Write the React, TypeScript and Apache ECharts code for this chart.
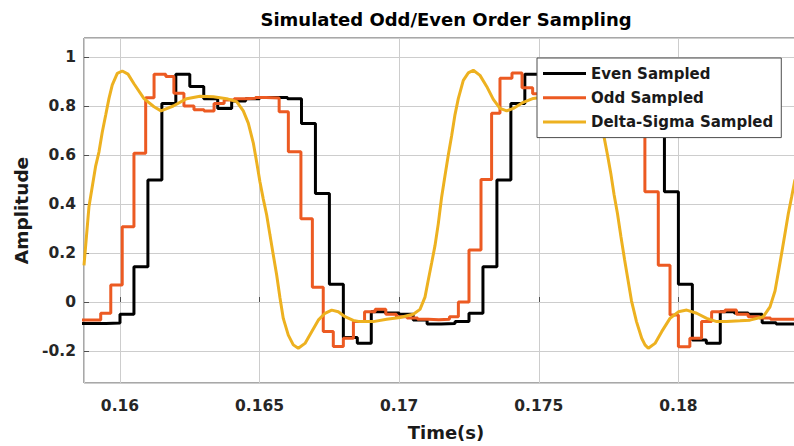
import React, { useEffect, useRef } from 'react';
import * as echarts from 'echarts';

// Even sampled (zero-order hold, value held from each time to the next)
const evenT = [
  0.1585, 0.159, 0.1595, 0.16, 0.1605, 0.161, 0.1615, 0.162, 0.1625, 0.163,
  0.1635, 0.164, 0.1645, 0.165, 0.1655, 0.166, 0.1665, 0.167, 0.1675, 0.168,
  0.1685, 0.169, 0.1695, 0.17, 0.1705, 0.171, 0.1715, 0.172, 0.1725, 0.173,
  0.1735, 0.174, 0.1745, 0.175, 0.1755, 0.176, 0.1765, 0.177, 0.1775, 0.178,
  0.1785, 0.179, 0.1795, 0.18, 0.1805, 0.181, 0.1815, 0.182, 0.1825, 0.183,
  0.1835, 0.184, 0.1845,
];
const evenV = [
  -0.088, -0.088, -0.086, -0.05, 0.144, 0.498, 0.81, 0.93, 0.88, 0.83,
  0.79, 0.82, 0.83, 0.835, 0.835, 0.83, 0.729, 0.443, 0.072, -0.145,
  -0.168, -0.04, -0.045, -0.05, -0.073, -0.09, -0.088, -0.08, -0.046, 0.144,
  0.498, 0.81, 0.93, 0.88, 0.83, 0.79, 0.82, 0.83, 0.835, 0.835,
  0.83, 0.729, 0.45, 0.072, -0.155, -0.168, -0.04, -0.045, -0.05, -0.085,
  -0.09, -0.09, -0.09,
];

// Odd sampled (zero-order hold)
const oddT = [
  0.1585, 0.15931, 0.15967, 0.16008, 0.1605, 0.16092, 0.16122, 0.16164, 0.16193, 0.16229,
  0.16265, 0.16301, 0.16337, 0.16373, 0.16409, 0.16447, 0.16485, 0.16523, 0.1657, 0.16603,
  0.16648, 0.16689, 0.16728, 0.16764, 0.168, 0.16836, 0.16876, 0.16914, 0.16952, 0.1699,
  0.17028, 0.17066, 0.17104, 0.17142, 0.1718, 0.17212, 0.1725, 0.17293, 0.17331, 0.17361,
  0.17404, 0.1744, 0.17478, 0.17516, 0.17554, 0.17592, 0.1763, 0.17668, 0.17706, 0.17766,
  0.17804, 0.17842, 0.1788, 0.17928, 0.1797, 0.18, 0.18041, 0.18083, 0.18119, 0.18167,
  0.18208, 0.1825, 0.1829, 0.1833, 0.1837, 0.1845,
];
const oddV = [
  -0.073, -0.046, 0.069, 0.307, 0.607, 0.834, 0.93, 0.92, 0.852, 0.8,
  0.785, 0.78, 0.81, 0.825, 0.83, 0.832, 0.835, 0.833, 0.777, 0.613,
  0.34, 0.06, -0.12, -0.182, -0.148, -0.08, -0.04, -0.03, -0.05, -0.06,
  -0.065, -0.07, -0.072, -0.07, -0.06, 0.0, 0.212, 0.5, 0.77, 0.913,
  0.935, 0.875, 0.85, 0.81, 0.79, 0.785, 0.81, 0.825, 0.83, 0.832,
  0.83, 0.76, 0.45, 0.15, -0.053, -0.183, -0.148, -0.08, -0.04, -0.033,
  -0.05, -0.06, -0.065, -0.07, -0.07, -0.07,
];

// Delta-Sigma sampled
const dsT = [
  0.158711, 0.15889, 0.15913, 0.159248, 0.159366, 0.159488, 0.159606, 0.159724, 0.159903, 0.160082,
  0.160287, 0.160501, 0.16086, 0.161218, 0.161468, 0.161909, 0.162389, 0.162865, 0.163342, 0.163822,
  0.16418, 0.164416, 0.164595, 0.164774, 0.164896, 0.165014, 0.165133, 0.165254, 0.165372, 0.165491,
  0.165612, 0.165731, 0.165849, 0.166028, 0.166207, 0.166386, 0.166626, 0.166866, 0.167102, 0.167342,
  0.167582, 0.167819, 0.168059, 0.168356, 0.168596, 0.169072, 0.169552, 0.170029, 0.170505, 0.170745,
  0.170924, 0.171042, 0.171164, 0.171282, 0.171401, 0.171522, 0.17164, 0.171759, 0.17188, 0.171999,
  0.172117, 0.172296, 0.172475, 0.172654, 0.172894, 0.173134, 0.173371, 0.17361, 0.17385, 0.174087,
  0.174445, 0.174803, 0.175365, 0.175831, 0.176332, 0.176691, 0.176941, 0.177156, 0.177335, 0.177461,
  0.177586, 0.177694, 0.177819, 0.177944, 0.17807, 0.178195, 0.17832, 0.178499, 0.178686, 0.178804,
  0.178922, 0.179162, 0.179402, 0.179699, 0.179997, 0.180298, 0.180656, 0.181014, 0.181372, 0.18173,
  0.182206, 0.182564, 0.183041, 0.183281, 0.18346, 0.183578, 0.1837, 0.183818, 0.183936, 0.184058,
  0.184176,
];
const dsV = [
  0.15, 0.39, 0.556, 0.613, 0.694, 0.763, 0.831, 0.886, 0.933, 0.943,
  0.93, 0.891, 0.83, 0.797, 0.78, 0.8, 0.83, 0.84, 0.838, 0.83,
  0.818, 0.78, 0.73, 0.65, 0.57, 0.49, 0.42, 0.355, 0.273, 0.192,
  0.11, 0.016, -0.067, -0.135, -0.175, -0.189, -0.169, -0.121, -0.074, -0.046,
  -0.033, -0.04, -0.06, -0.075, -0.08, -0.08, -0.07, -0.063, -0.05, -0.03,
  0.02, 0.09, 0.16, 0.23, 0.32, 0.43, 0.515, 0.6, 0.68, 0.765,
  0.83, 0.905, 0.935, 0.946, 0.925, 0.88, 0.827, 0.79, 0.78, 0.79,
  0.815, 0.831, 0.84, 0.838, 0.83, 0.818, 0.785, 0.74, 0.675, 0.6,
  0.52, 0.44, 0.36, 0.265, 0.175, 0.09, 0.005, -0.08, -0.148, -0.175,
  -0.189, -0.169, -0.121, -0.067, -0.04, -0.033, -0.046, -0.067, -0.08, -0.08,
  -0.077, -0.074, -0.06, -0.02, 0.045, 0.12, 0.2, 0.28, 0.36, 0.43,
  0.5,
];

const seriesNames = ['Even Sampled', 'Odd Sampled', 'Delta-Sigma Sampled'];
const seriesColors = ['#000000', '#EC5A22', '#EDB120'];
const titleText = 'Simulated Odd/Even Order Sampling';
const xName = 'Time(s)';
const yName = 'Amplitude';
const xRange = [0.158711, 0.184642];
const yRange = [-0.3306, 1.0776];

const FONT = '"DejaVu Sans", "Liberation Sans", Arial, sans-serif';

const zip = (t: number[], v: number[]) => t.map((x, i) => [x, v[i]]);

export default function App() {
  const ref = useRef<HTMLDivElement>(null);

  useEffect(() => {
    if (!ref.current) return;
    const chart = echarts.init(ref.current, null, { renderer: 'svg' });
    const fmt = (v: number) => String(parseFloat(v.toFixed(4)));
    chart.setOption({
      animation: false,
      backgroundColor: '#ffffff',
      graphic: [
        {
          type: 'text',
          x: 446,
          y: 19,
          silent: true,
          style: {
            text: titleText,
            fill: '#000000',
            fontFamily: FONT,
            fontWeight: 'bold',
            fontSize: 18,
            align: 'center',
            verticalAlign: 'middle',
          },
        },
      ],
      legend: {
        data: seriesNames,
        orient: 'vertical',
        left: 537,
        top: 58,
        icon: 'rect',
        itemWidth: 43,
        itemHeight: 3,
        itemGap: 9.3,
        padding: [8, 8, 8, 6],
        backgroundColor: '#ffffff',
        borderColor: '#4d4d4d',
        borderWidth: 1,
        borderRadius: 0,
        selectedMode: false,
        textStyle: {
          fontFamily: FONT,
          fontWeight: 'bold',
          fontSize: 15,
          color: '#1a1a1a',
          lineHeight: 14,
        },
      },
      grid: {
        left: 84,
        top: 38,
        width: 724,
        height: 345,
        show: true,
        borderColor: '#505050',
        borderWidth: 1,
        backgroundColor: '#ffffff',
        containLabel: false,
        outerBoundsMode: 'none',
      },
      xAxis: {
        type: 'value',
        min: xRange[0],
        max: xRange[1],
        splitNumber: 5,
        name: xName,
        nameLocation: 'middle',
        nameGap: 40,
        nameTextStyle: { fontFamily: FONT, fontWeight: 'bold', fontSize: 18, color: '#1a1a1a' },
        axisLine: { show: false },
        axisTick: { show: true, inside: true, length: 5, lineStyle: { color: '#505050' } },
        axisLabel: {
          showMinLabel: false,
          showMaxLabel: false,
          margin: 15,
          fontFamily: FONT,
          fontWeight: 'bold',
          fontSize: 15.5,
          color: '#262626',
          formatter: fmt,
        },
        splitLine: { show: true, lineStyle: { color: '#cdcdcd', width: 1 } },
      },
      yAxis: {
        type: 'value',
        min: yRange[0],
        max: yRange[1],
        splitNumber: 7,
        name: yName,
        nameLocation: 'middle',
        nameGap: 49,
        nameTextStyle: { fontFamily: FONT, fontWeight: 'bold', fontSize: 18.5, color: '#1a1a1a' },
        axisLine: { show: false },
        axisTick: { show: true, inside: true, length: 5, lineStyle: { color: '#505050' } },
        axisLabel: {
          showMinLabel: false,
          showMaxLabel: false,
          margin: 8,
          fontFamily: FONT,
          fontWeight: 'bold',
          fontSize: 15.5,
          color: '#262626',
          formatter: fmt,
        },
        splitLine: { show: true, lineStyle: { color: '#cdcdcd', width: 1 } },
      },
      series: [
        {
          name: seriesNames[0],
          type: 'line',
          step: 'end',
          data: zip(evenT, evenV),
          symbol: 'none',
          color: seriesColors[0],
          lineStyle: { color: seriesColors[0], width: 3 },
          silent: true,
          emphasis: { disabled: true },
        },
        {
          name: seriesNames[1],
          type: 'line',
          step: 'end',
          data: zip(oddT, oddV),
          symbol: 'none',
          color: seriesColors[1],
          lineStyle: { color: seriesColors[1], width: 3 },
          silent: true,
          emphasis: { disabled: true },
        },
        {
          name: seriesNames[2],
          type: 'line',
          data: zip(dsT, dsV),
          symbol: 'none',
          color: seriesColors[2],
          lineStyle: { color: seriesColors[2], width: 3 },
          silent: true,
          emphasis: { disabled: true },
        },
      ],
    });
    return () => chart.dispose();
  }, []);

  return (
    <div
      ref={ref}
      style={{ position: 'absolute', left: 0, top: 0, width: 794, height: 446, background: '#ffffff' }}
    />
  );
}
